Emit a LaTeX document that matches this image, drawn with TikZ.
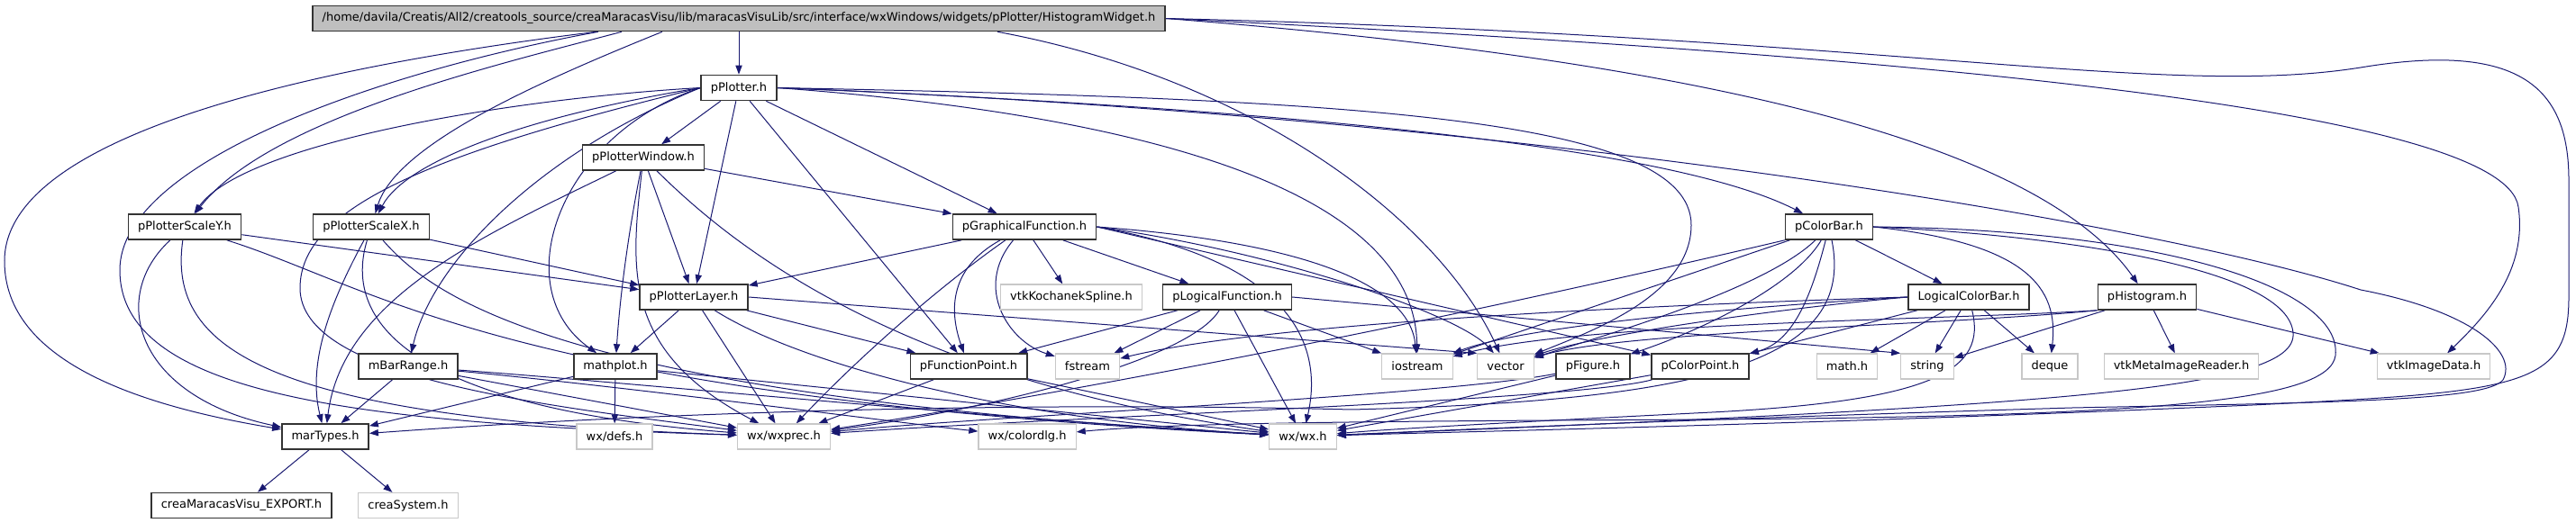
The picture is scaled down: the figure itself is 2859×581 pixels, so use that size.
\documentclass[tikz,border=0pt]{standalone}
\usepackage{fontspec}
\setmainfont{DejaVu Sans}
\usetikzlibrary{shapes, arrows.meta, positioning, calc, backgrounds}
\definecolor{edgeblue}{RGB}{25, 25, 112}
\definecolor{rootgray}{RGB}{191, 191, 191}
\definecolor{sysgray}{RGB}{200, 200, 200}

\begin{document}
\begin{tikzpicture}[x=0.5pt, y=-0.5pt,
  hdr/.style={draw=black!80, line width=0.8pt, fill=white, minimum height=14pt, inner xsep=5.3pt, inner ysep=0pt, font=\fontsize{6.5}{8}\selectfont},
  sys/.style={hdr, draw=sysgray, line width=0.6pt},
  roothdr/.style={hdr, fill=rootgray},
  dep/.style={draw=edgeblue, line width=0.5pt, -{Triangle[length=5pt, width=3.6pt]}}]
  \useasboundingbox (0,0) rectangle (2859,581);

  % Root file
  \node[roothdr] (root) at (820,20.5) {/home/davila/Creatis/All2/creatools\_source/creaMaracasVisu/lib/maracasVisuLib/src/interface/wxWindows/widgets/pPlotter/HistogramWidget.h};

  % Project headers
  \node[hdr] (plotter) at (820,97.5) {pPlotter.h};
  \node[hdr] (plotwin) at (714,175) {pPlotterWindow.h};
  \node[hdr] (scaley) at (205,252) {pPlotterScaleY.h};
  \node[hdr] (scalex) at (412,252) {pPlotterScaleX.h};
  \node[hdr] (graphfn) at (1137,252) {pGraphicalFunction.h};
  \node[hdr] (colorbar) at (2030,252) {pColorBar.h};
  \node[hdr] (layer) at (770,330) {pPlotterLayer.h};
  \node[hdr] (logicfn) at (1362,330) {pLogicalFunction.h};
  \node[hdr] (logicbar) at (2185,330) {LogicalColorBar.h};
  \node[hdr] (histo) at (2383,330) {pHistogram.h};
  \node[hdr] (barrange) at (453,407) {mBarRange.h};
  \node[hdr] (mathplot) at (683,407) {mathplot.h};
  \node[hdr] (fnpoint) at (1075,407) {pFunctionPoint.h};
  \node[hdr] (figure) at (1768,407) {pFigure.h};
  \node[hdr] (colorpoint) at (1887,407) {pColorPoint.h};
  \node[hdr] (martypes) at (361,485) {marTypes.h};
  \node[hdr] (export) at (268,561.5) {creaMaracasVisu\_EXPORT.h};

  % System and library headers
  \node[sys] (kochanek) at (1189,330) {vtkKochanekSpline.h};
  \node[sys] (fstream) at (1207,407) {fstream};
  \node[sys] (iostream) at (1573,407) {iostream};
  \node[sys] (vector) at (1671,407) {vector};
  \node[sys] (mathh) at (2050,407) {math.h};
  \node[sys] (string) at (2139,407) {string};
  \node[sys] (deque) at (2275,407) {deque};
  \node[sys] (metareader) at (2421,407) {vtkMetaImageReader.h};
  \node[sys] (imagedata) at (2701,407) {vtkImageData.h};
  \node[sys] (wxdefs) at (682,485) {wx/defs.h};
  \node[sys] (wxprec) at (870,485) {wx/wxprec.h};
  \node[sys] (colordlg) at (1140,485) {wx/colordlg.h};
  \node[sys] (wxwx) at (1446,485) {wx/wx.h};
  \node[sys] (creasys) at (453,561.5) {creaSystem.h};

  \begin{pgfonlayer}{background}
  % Includes of the root file
  \draw[dep] (root) -- (plotter);
  \draw[dep] (root.south -| 690,0) .. controls (560,70) and (300,130) .. (scaley);
  \draw[dep] (root.south -| 735,0) .. controls (600,90) and (440,160) .. (scalex);
  \draw[dep] (root.south -| 662,0) .. controls (300,80) and (5,160) .. (5,290) .. controls (5,400) and (150,450) .. (martypes);
  \draw[dep] (root.south -| 664,0) .. controls (420,80) and (133,180) .. (133,300) .. controls (133,440) and (400,470) .. (wxprec);
  \draw[dep] (root.south -| 1107,0) .. controls (1400,90) and (1600,250) .. (vector);
  \draw[dep] (root.east) .. controls (1800,60) and (2250,140) .. (histo);
  \draw[dep] (root.east) .. controls (2100,60) and (2780,120) .. (2795,230) .. controls (2805,300) and (2760,350) .. (imagedata);
  \draw[dep] (root.east) .. controls (2100,40) and (2400,110) .. (2620,75) .. controls (2800,45) and (2851,100) .. (2851,200) -- (2851,330) .. controls (2851,430) and (2800,435) .. (2500,450) .. controls (2000,472) and (1600,480) .. (wxwx);

  % pPlotter.h
  \draw[dep] (plotter) -- (plotwin);
  \draw[dep] (plotter.west) .. controls (560,110) and (270,160) .. (scaley);
  \draw[dep] (plotter.west) .. controls (580,130) and (450,180) .. (scalex);
  \draw[dep] (plotter) -- (layer);
  \draw[dep] (plotter.west) .. controls (480,170) and (333,230) .. (333,320) .. controls (333,420) and (600,450) .. (wxprec);
  \draw[dep] (plotter.west) .. controls (600,170) and (480,290) .. (barrange);
  \draw[dep] (plotter.west) .. controls (620,150) and (560,320) .. (mathplot);
  \draw[dep] (plotter) -- (fnpoint);
  \draw[dep] (plotter) -- (graphfn);
  \draw[dep] (plotter.east) .. controls (1400,120) and (1850,160) .. (colorbar);
  \draw[dep] (plotter.east) .. controls (1300,130) and (1570,220) .. (iostream);
  \draw[dep] (plotter.east) .. controls (1500,110) and (1877,130) .. (1877,250) .. controls (1877,330) and (1760,370) .. (vector);
  \draw[dep] (plotter.east) .. controls (1700,130) and (2400,250) .. (2620,322) .. controls (2740,345) and (2795,390) .. (2778,422) .. controls (2760,445) and (2600,447) .. (2300,453) .. controls (1900,465) and (1600,478) .. (wxwx);

  % pPlotterWindow.h
  \draw[dep] (plotwin) -- (graphfn);
  \draw[dep] (plotwin) -- (layer);
  \draw[dep] (plotwin) .. controls (697,260) and (688,330) .. (mathplot);
  \draw[dep] (plotwin) .. controls (540,260) and (380,330) .. (martypes);
  \draw[dep] (plotwin) .. controls (700,300) and (690,390) .. (wxprec);
  \draw[dep] (plotwin) .. controls (820,280) and (1000,420) .. (wxwx);

  % pPlotterScaleY.h and pPlotterScaleX.h
  \draw[dep] (scaley) -- (layer);
  \draw[dep] (scaley) .. controls (120,330) and (150,440) .. (martypes);
  \draw[dep] (scaley) .. controls (185,390) and (300,465) .. (wxprec);
  \draw[dep] (scaley) .. controls (420,320) and (560,440) .. (wxwx);
  \draw[dep] (scalex) -- (layer);
  \draw[dep] (scalex) .. controls (370,330) and (340,400) .. (martypes);
  \draw[dep] (scalex) .. controls (385,340) and (420,450) .. (wxprec);
  \draw[dep] (scalex) .. controls (480,330) and (620,440) .. (wxwx);

  % pGraphicalFunction.h
  \draw[dep] (graphfn) -- (layer);
  \draw[dep] (graphfn) .. controls (1050,300) and (1055,350) .. (fnpoint);
  \draw[dep] (graphfn) .. controls (1040,320) and (950,400) .. (wxprec);
  \draw[dep] (graphfn) .. controls (1080,320) and (1120,380) .. (fstream);
  \draw[dep] (graphfn) -- (kochanek);
  \draw[dep] (graphfn) -- (logicfn);
  \draw[dep] (graphfn.east) .. controls (1430,290) and (1470,380) .. (wxwx);
  \draw[dep] (graphfn.east) .. controls (1460,270) and (1565,320) .. (iostream);
  \draw[dep] (graphfn.east) .. controls (1420,280) and (1620,350) .. (vector);
  \draw[dep] (graphfn.east) -- (colorpoint);

  % pColorBar.h
  \draw[dep] (colorbar) -- (logicbar);
  \draw[dep] (colorbar.east) .. controls (2250,270) and (2285,320) .. (deque);
  \draw[dep] (colorbar) -- (iostream);
  \draw[dep] (colorbar.south west) .. controls (1500,380) and (1100,450) .. (wxprec);
  \draw[dep] (colorbar.east) .. controls (2300,262) and (2540,300) .. (2545,370) .. controls (2550,432) and (2300,450) .. (wxwx);
  \draw[dep] (colorbar.east) .. controls (2400,255) and (2600,320) .. (2592,395) .. controls (2585,445) and (2400,462) .. (1900,466) .. controls (1500,468) and (1300,470) .. (colordlg);
  \draw[dep] (colorbar) .. controls (1960,320) and (1790,370) .. (vector);
  \draw[dep] (colorbar) .. controls (2010,330) and (1990,380) .. (colorpoint);
  \draw[dep] (colorbar) .. controls (1990,320) and (1880,370) .. (figure);
  \draw[dep] (colorbar) .. controls (2060,400) and (1900,445) .. (1500,455) .. controls (1100,445) and (700,460) .. (martypes);

  % LogicalColorBar.h
  \draw[dep] (logicbar) -- (colorpoint);
  \draw[dep] (logicbar) -- (mathh);
  \draw[dep] (logicbar) -- (string);
  \draw[dep] (logicbar) -- (deque);
  \draw[dep] (logicbar) .. controls (2205,410) and (2150,445) .. (1900,458) .. controls (1700,468) and (1550,476) .. (wxwx);
  \draw[dep] (logicbar.west) .. controls (1950,340) and (1700,360) .. (iostream);
  \draw[dep] (logicbar.west) .. controls (1950,345) and (1760,375) .. (vector);
  \draw[dep] (logicbar.west) .. controls (1800,340) and (1400,360) .. (fstream);

  % pLogicalFunction.h
  \draw[dep] (logicfn) -- (fnpoint);
  \draw[dep] (logicfn) -- (fstream);
  \draw[dep] (logicfn) .. controls (1320,400) and (1100,455) .. (wxprec);
  \draw[dep] (logicfn) -- (wxwx);
  \draw[dep] (logicfn) -- (iostream);
  \draw[dep] (logicfn.east) -- (string.north west);

  % pPlotterLayer.h
  \draw[dep] (layer) -- (mathplot);
  \draw[dep] (layer) -- (wxprec);
  \draw[dep] (layer) .. controls (880,400) and (1100,465) .. (wxwx);
  \draw[dep] (layer) -- (fnpoint);
  \draw[dep] (layer.east) -- (vector.north west);

  % mathplot.h, mBarRange.h, pFunctionPoint.h
  \draw[dep] (mathplot) -- (wxdefs);
  \draw[dep] (mathplot) -- (martypes);
  \draw[dep] (mathplot) -- (wxwx);
  \draw[dep] (barrange) -- (martypes);
  \draw[dep] (barrange) -- (wxprec);
  \draw[dep] (barrange) .. controls (700,430) and (1000,470) .. (colordlg);
  \draw[dep] (barrange) .. controls (700,425) and (1100,465) .. (wxwx);
  \draw[dep] (fnpoint) -- (wxprec);
  \draw[dep] (fnpoint) -- (wxwx);

  % pFigure.h, pColorPoint.h
  \draw[dep] (figure) .. controls (1600,440) and (1100,462) .. (wxprec);
  \draw[dep] (figure) -- (wxwx);
  \draw[dep] (colorpoint) .. controls (1750,445) and (1200,462) .. (wxprec);
  \draw[dep] (colorpoint) -- (wxwx);

  % pHistogram.h
  \draw[dep] (histo) -- (string);
  \draw[dep] (histo) -- (metareader);
  \draw[dep] (histo) -- (imagedata);
  \draw[dep] (histo.south west) .. controls (2150,362) and (1800,368) .. (vector);
  \draw[dep] (histo.south west) .. controls (2150,356) and (1750,358) .. (iostream);

  % marTypes.h
  \draw[dep] (martypes) -- (export);
  \draw[dep] (martypes) -- (creasys);
  \end{pgfonlayer}
\end{tikzpicture}
\end{document}
